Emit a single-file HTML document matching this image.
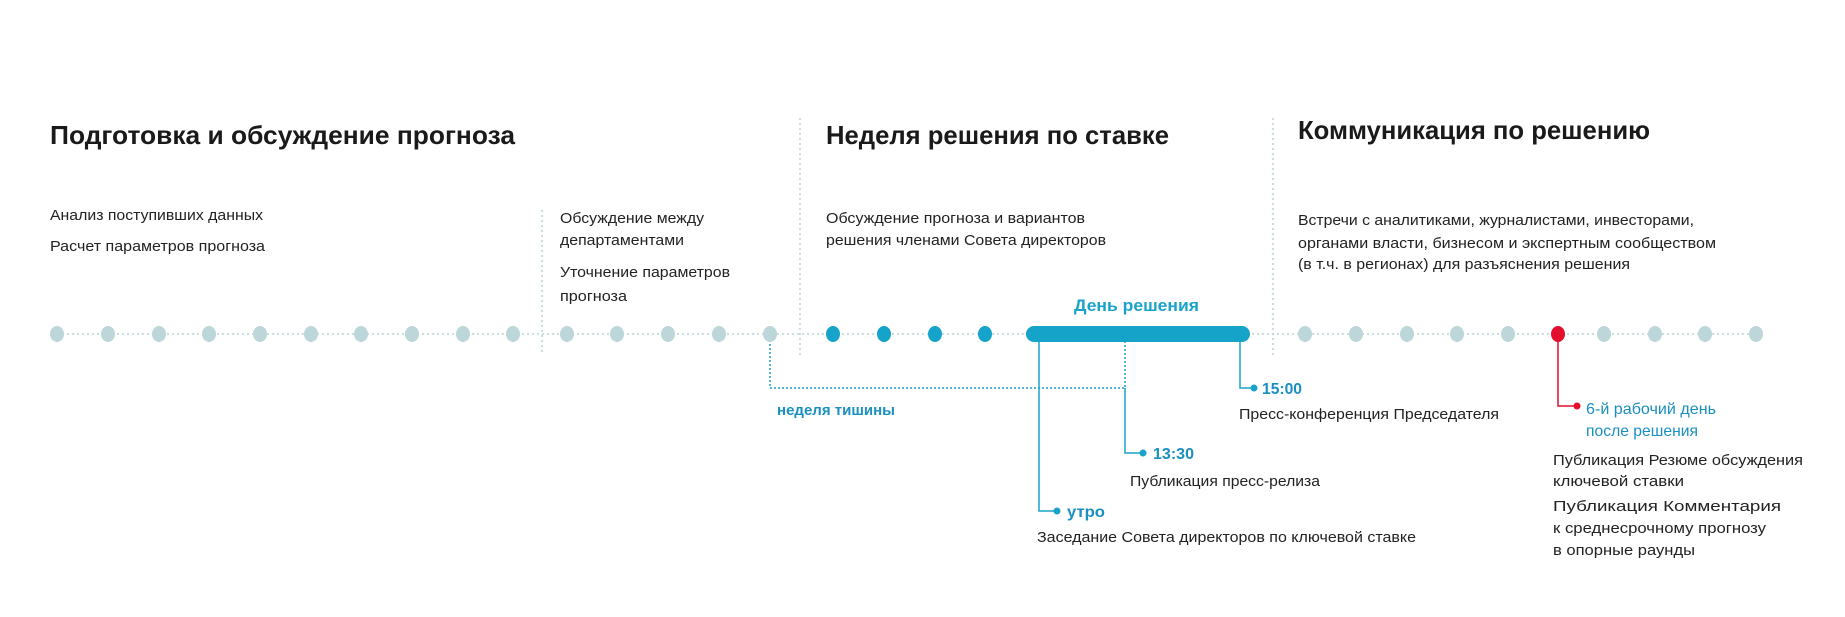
<!DOCTYPE html>
<html><head><meta charset="utf-8"><style>
html,body{margin:0;padding:0;background:#fff;}
svg{display:block;}
text{font-family:"Liberation Sans","DejaVu Sans",sans-serif;}
.t{font-size:26px;font-weight:bold;fill:#1a1a1a;}
.b{font-size:15px;fill:#222;}
.bl{font-size:16px;fill:#1a8fc0;font-weight:bold;}
</style></head><body>
<svg width="1845" height="617" viewBox="0 0 1845 617" xmlns="http://www.w3.org/2000/svg">
<g stroke="#b7d3d6" stroke-width="1.5" stroke-dasharray="2 3">
<line x1="542" y1="210" x2="542" y2="355"/>
<line x1="800" y1="118" x2="800" y2="355"/>
<line x1="1273" y1="118" x2="1273" y2="355"/>
<line x1="57" y1="334" x2="1756" y2="334"/>
</g>
<text class="t" x="50" y="144" textLength="465" lengthAdjust="spacingAndGlyphs">Подготовка и обсуждение прогноза</text>
<text class="t" x="826" y="144" textLength="343" lengthAdjust="spacingAndGlyphs">Неделя решения по ставке</text>
<text class="t" x="1298" y="139" textLength="352" lengthAdjust="spacingAndGlyphs">Коммуникация по решению</text>
<g class="b">
<text x="50" y="220" textLength="213" lengthAdjust="spacingAndGlyphs">Анализ поступивших данных</text>
<text x="50" y="251" textLength="215" lengthAdjust="spacingAndGlyphs">Расчет параметров прогноза</text>
<text x="560" y="223" textLength="144" lengthAdjust="spacingAndGlyphs">Обсуждение между</text>
<text x="560" y="245" textLength="124" lengthAdjust="spacingAndGlyphs">департаментами</text>
<text x="560" y="277" textLength="170" lengthAdjust="spacingAndGlyphs">Уточнение параметров</text>
<text x="560" y="301" textLength="67" lengthAdjust="spacingAndGlyphs">прогноза</text>
<text x="826" y="223" textLength="259" lengthAdjust="spacingAndGlyphs">Обсуждение прогноза и вариантов</text>
<text x="826" y="245" textLength="280" lengthAdjust="spacingAndGlyphs">решения членами Совета директоров</text>
<text x="1298" y="225" textLength="396" lengthAdjust="spacingAndGlyphs">Встречи с аналитиками, журналистами, инвесторами,</text>
<text x="1298" y="248" textLength="418" lengthAdjust="spacingAndGlyphs">органами власти, бизнесом и экспертным сообществом</text>
<text x="1298" y="269" textLength="332" lengthAdjust="spacingAndGlyphs">(в т.ч. в регионах) для разъяснения решения</text>
<text x="1239" y="419" textLength="260" lengthAdjust="spacingAndGlyphs">Пресс-конференция Председателя</text>
<text x="1130" y="486" textLength="190" lengthAdjust="spacingAndGlyphs">Публикация пресс-релиза</text>
<text x="1037" y="542" textLength="379" lengthAdjust="spacingAndGlyphs">Заседание Совета директоров по ключевой ставке</text>
<text x="1553" y="465" textLength="250" lengthAdjust="spacingAndGlyphs">Публикация Резюме обсуждения</text>
<text x="1553" y="486" textLength="131" lengthAdjust="spacingAndGlyphs">ключевой ставки</text>
<text x="1553" y="511" textLength="228" lengthAdjust="spacingAndGlyphs">Публикация Комментария</text>
<text x="1553" y="533" textLength="213" lengthAdjust="spacingAndGlyphs">к среднесрочному прогнозу</text>
<text x="1553" y="555" textLength="142" lengthAdjust="spacingAndGlyphs">в опорные раунды</text>
</g>
<!-- silence bracket -->
<path d="M770 340 V388 H1125 V340" fill="none" stroke="#1a9cc8" stroke-width="1.5" stroke-dasharray="2 2"/>
<text class="bl" x="777" y="415" textLength="118" lengthAdjust="spacingAndGlyphs" style="font-size:15px">неделя тишины</text>
<!-- connectors -->
<g fill="none" stroke="#1aa3c9" stroke-width="1.5">
<path d="M1039 340 V511 H1056"/>
<path d="M1125 388 V453 H1143"/>
<path d="M1240 340 V388 H1254"/>
</g>
<path d="M1558 340 V406 H1577" fill="none" stroke="#e30f2d" stroke-width="1.5"/>
<g fill="#1aa3c9">
<circle cx="1057" cy="511" r="3.5"/><circle cx="1143" cy="453" r="3.5"/><circle cx="1254" cy="388" r="3.5"/>
</g>
<circle cx="1577" cy="406" r="3.5" fill="#e30f2d"/>
<g class="bl">
<text x="1262" y="394" textLength="40" lengthAdjust="spacingAndGlyphs">15:00</text>
<text x="1153" y="459" textLength="41" lengthAdjust="spacingAndGlyphs">13:30</text>
<text x="1067" y="517" textLength="38" lengthAdjust="spacingAndGlyphs">утро</text>
<text x="1586" y="414" textLength="130" lengthAdjust="spacingAndGlyphs" style="font-weight:normal">6-й рабочий день</text>
<text x="1586" y="436" textLength="112" lengthAdjust="spacingAndGlyphs" style="font-weight:normal">после решения</text>
<text x="1074" y="311" textLength="125" lengthAdjust="spacingAndGlyphs" style="fill:#1aa3c9;font-size:17px">День решения</text>
</g>
<!-- dots -->
<g fill="#bcd6d9">
<ellipse cx="57" cy="334" rx="7" ry="8"/><ellipse cx="108" cy="334" rx="7" ry="8"/><ellipse cx="159" cy="334" rx="7" ry="8"/><ellipse cx="209" cy="334" rx="7" ry="8"/><ellipse cx="260" cy="334" rx="7" ry="8"/><ellipse cx="311" cy="334" rx="7" ry="8"/><ellipse cx="361" cy="334" rx="7" ry="8"/><ellipse cx="412" cy="334" rx="7" ry="8"/><ellipse cx="463" cy="334" rx="7" ry="8"/><ellipse cx="513" cy="334" rx="7" ry="8"/><ellipse cx="567" cy="334" rx="7" ry="8"/><ellipse cx="617" cy="334" rx="7" ry="8"/><ellipse cx="668" cy="334" rx="7" ry="8"/><ellipse cx="719" cy="334" rx="7" ry="8"/><ellipse cx="770" cy="334" rx="7" ry="8"/>
<ellipse cx="1305" cy="334" rx="7" ry="8"/><ellipse cx="1356" cy="334" rx="7" ry="8"/><ellipse cx="1407" cy="334" rx="7" ry="8"/><ellipse cx="1457" cy="334" rx="7" ry="8"/><ellipse cx="1508" cy="334" rx="7" ry="8"/>
<ellipse cx="1604" cy="334" rx="7" ry="8"/><ellipse cx="1655" cy="334" rx="7" ry="8"/><ellipse cx="1705" cy="334" rx="7" ry="8"/><ellipse cx="1756" cy="334" rx="7" ry="8"/>
</g>
<g fill="#16a3c9">
<ellipse cx="833" cy="334" rx="7" ry="8"/><ellipse cx="884" cy="334" rx="7" ry="8"/><ellipse cx="935" cy="334" rx="7" ry="8"/><ellipse cx="985" cy="334" rx="7" ry="8"/>
<rect x="1026" y="326" width="224" height="16" rx="8"/>
</g>
<ellipse cx="1558" cy="334" rx="7" ry="8" fill="#e30f2d"/>
</svg>
</body></html>
